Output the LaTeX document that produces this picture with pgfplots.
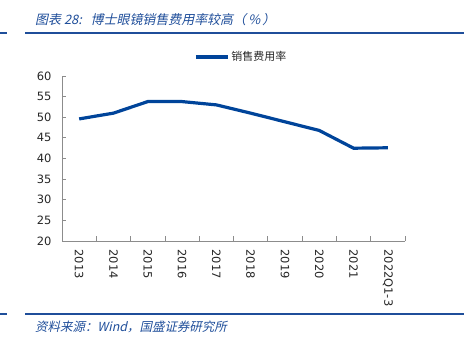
\documentclass[border=0pt]{standalone}
\usepackage{pgfplots}
\pgfplotsset{compat=1.18}
\usepackage{fontspec}
\setmainfont{DejaVu Sans}
\newfontfamily\cjk{Noto Sans CJK SC}
\newfontfamily\cjkit[FakeSlant=0.22]{Noto Sans CJK SC}
\definecolor{hdr}{HTML}{1F4E9A}
\definecolor{ln}{HTML}{00449A}
\definecolor{axg}{HTML}{8C8C8C}
\definecolor{txt}{HTML}{262626}
\begin{document}
\begin{tikzpicture}[x=1bp,y=1bp]
\useasboundingbox (0,0) rectangle (464,-353);
\node[anchor=west, inner sep=0, text=hdr, font=\cjkit\fontsize{13}{15}\selectfont] at (35,-20) {图表 28:\ \ \ 博士眼镜销售费用率较高（\,\%\,）};
\draw[hdr, line width=1.6] (0,-33) -- (7,-33);
\draw[hdr, line width=1.6] (25,-33) -- (464,-33);
\draw[hdr, line width=1.6] (0,-314) -- (7,-314);
\draw[hdr, line width=1.6] (25,-314) -- (464,-314);
\node[anchor=west, inner sep=0, text=hdr, font=\cjkit\fontsize{12.5}{14}\selectfont] at (35,-327) {资料来源：Wind，国盛证券研究所};
\begin{axis}[
  at={(62bp,-241bp)}, anchor=south west,
  scale only axis, width=343bp, height=165bp,
  xmin=-0.5, xmax=9.5, ymin=20, ymax=60,
  axis lines=left, axis line style={-, draw=axg, line width=0.8bp},
  ytick={20,25,...,60},
  xtick={0,...,9},
  xticklabels={2013,2014,2015,2016,2017,2018,2019,2020,2021,2022Q1-3},
  minor xtick={-0.5,0.5,...,9.5},
  major x tick style={draw=none},
  minor x tick style={draw=axg, line width=0.8bp},
  y tick style={draw=axg, line width=0.8bp},
  tick align=inside,
  major tick length=4bp, minor tick length=5bp,
  /pgf/number format/assume math mode=true,
  tick label style={font=\fontsize{11.5}{13}\selectfont, text=txt},
  x tick label style={rotate=-90, anchor=west},
  xticklabel shift=5bp,
  yticklabel shift=7bp,
  legend style={at={(0.385,1.115)}, anchor=west, draw=none, fill=none,
    font=\cjk\fontsize{11}{13}\selectfont, text=txt, inner sep=0pt},
  legend image code/.code={\draw[#1] (0bp,0bp) -- (32bp,0bp);},
]
\addplot[color=ln, line width=3.2bp] coordinates {(0,49.6)(1,51.0)(2,53.8)(3,53.8)(4,53.0)(5,51.0)(6,48.9)(7,46.8)(8,42.5)(9,42.6)};
\addlegendentry{销售费用率}
\end{axis}
\end{tikzpicture}
\end{document}
